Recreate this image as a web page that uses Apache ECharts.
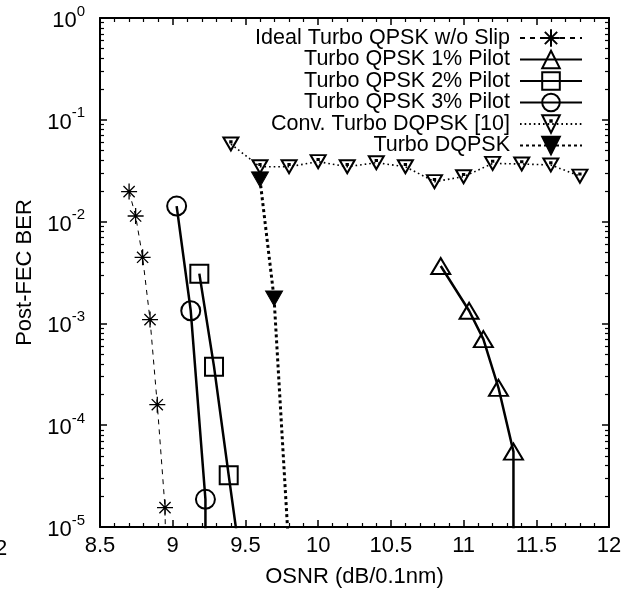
<!DOCTYPE html>
<html>
<head>
<meta charset="utf-8">
<script src="https://cdn.jsdelivr.net/npm/echarts@6/dist/echarts.min.js"></script>
<style>
  html, body { margin: 0; padding: 0; background: #fff; }
  #chart { width: 633px; height: 597px; }
</style>
</head>
<body>
<div id="chart"></div>
<script>
// OSNR (dB/0.1nm) -> Post-FEC BER
const idealX = [8.70, 8.745, 8.793, 8.844, 8.894, 8.947];
const idealY = [0.0197, 0.01135, 0.00446, 0.00109, 1.59e-4, 1.55e-5];
const pilot1X = [10.843, 11.038, 11.136, 11.24, 11.343];
const pilot1Y = [3.66e-3, 1.33e-3, 7.0e-4, 2.33e-4, 5.5e-5];
const pilot2X = [9.183, 9.284, 9.385];
const pilot2Y = [3.08e-3, 3.76e-4, 3.22e-5];
const pilot3X = [9.027, 9.124, 9.225];
const pilot3Y = [0.0142, 1.33e-3, 1.87e-5];
const convX = [9.4, 9.6, 9.8, 10.0, 10.2, 10.4, 10.6, 10.8, 11.0, 11.2, 11.4, 11.6, 11.8];
const convY = [0.0578, 0.0346, 0.0346, 0.0388, 0.0346, 0.0379, 0.0346, 0.0247, 0.0276, 0.0373, 0.0368, 0.036, 0.028];
const dqpskX = [9.60, 9.697];
const dqpskY = [0.026, 0.00176];

// curves keep going below 1e-5 (cut by the frame), no marker there
const idealTail = [8.96, 1e-6];
const pilot1Tail = [11.343, 1e-7];
const pilot2Tail = [9.53, 1e-6];
const pilot3Tail = [9.225, 1e-7];
const dqpskTail = [9.83, 1e-6];

const names = [
  'Ideal Turbo QPSK w/o Slip',
  'Turbo QPSK 1% Pilot',
  'Turbo QPSK 2% Pilot',
  'Turbo QPSK 3% Pilot',
  'Conv. Turbo DQPSK [10]',
  'Turbo DQPSK'
];

const FONT = 'Liberation Sans';
const FS = 22;

function pts(xs, ys, tail) {
  const d = xs.map((x, i) => [x, ys[i]]);
  if (tail) d.push({ value: tail, symbol: 'none' });
  return d;
}

// marker shapes
const asterisk = 'path://M0,-10L0,10M-10,0L10,0M-7,-7L7,7M-7,7L7,-7';
const dotTri = 'path://M-10,-8L10,-8L0,10Z M-0.8,-2.8L0.8,-2.8L0.8,-1.2L-0.8,-1.2Z';

function line(name, data, opt) {
  return Object.assign({
    name: name,
    type: 'line',
    data: data,
    symbolSize: 18,
    showSymbol: true,
    clip: true,
    animation: false,
    itemStyle: { color: 'rgba(0,0,0,0)', borderColor: '#000', borderWidth: 2 },
    emphasis: { disabled: true }
  }, opt);
}

// key rows, gnuplot style: text left, sample right
const rowY = [38, 59.5, 81, 102.5, 124, 145.5];
const legends = names.map((n, i) => ({
  data: [n],
  orient: 'vertical',
  right: 50,
  top: rowY[i] - 11,
  align: 'right',
  padding: 0,
  itemWidth: 62,
  itemHeight: 22,
  selectedMode: false,
  textStyle: { fontFamily: FONT, fontSize: 21.5, color: '#000', lineHeight: 22, padding: [0, 5, 0, 0] }
}));

const axisCommonX = {
  type: 'value',
  min: 8.5,
  max: 12,
  interval: 0.5,
  splitLine: { show: false },
  axisLine: { onZero: false, lineStyle: { color: '#000', width: 2 } },
  axisTick: { inside: true, length: 7, lineStyle: { color: '#000', width: 1.5 } },
  minorTick: { show: true, splitNumber: 5, length: 4, lineStyle: { color: '#000', width: 1.2 } }
};
const axisCommonY = {
  type: 'log',
  logBase: 10,
  min: 1e-5,
  max: 1,
  splitLine: { show: false },
  axisLine: { onZero: false, lineStyle: { color: '#000', width: 2 } },
  axisTick: { inside: true, length: 7, lineStyle: { color: '#000', width: 1.5 } },
  minorTick: { show: true, splitNumber: 9, length: 4, lineStyle: { color: '#000', width: 1.2 } }
};

const option = {
  backgroundColor: '#fff',
  animation: false,
  grid: { left: 100, right: 24, top: 18, bottom: 70 },
  legend: legends,
  xAxis: [
    Object.assign({}, axisCommonX, {
      position: 'bottom',
      name: 'OSNR (dB/0.1nm)',
      nameLocation: 'middle',
      nameGap: 39,
      nameTextStyle: { fontFamily: FONT, fontSize: FS, color: '#000' },
      axisLabel: { fontFamily: FONT, fontSize: FS, color: '#000', margin: 8 }
    }),
    Object.assign({}, axisCommonX, { position: 'top', axisLabel: { show: false } })
  ],
  yAxis: [
    Object.assign({}, axisCommonY, {
      position: 'left',
      name: 'Post-FEC BER',
      nameLocation: 'middle',
      nameGap: 62,
      nameTextStyle: { fontFamily: FONT, fontSize: FS, color: '#000' },
      axisLabel: {
        margin: 15,
        formatter: v => '{b|10}{s|' + Math.round(Math.log10(v)) + '}',
        rich: {
          b: { fontFamily: FONT, fontSize: FS, color: '#000', verticalAlign: 'bottom', lineHeight: 28 },
          s: { fontFamily: FONT, fontSize: 15, color: '#000', verticalAlign: 'top', lineHeight: 28 }
        }
      }
    }),
    Object.assign({}, axisCommonY, { position: 'right', axisLabel: { show: false } })
  ],
  graphic: [
    { type: 'text', x: -5, y: 538, style: { text: '2', fontFamily: FONT, fontSize: FS, fill: '#000' } }
  ],
  series: [
    line(names[0], pts(idealX, idealY, idealTail), {
      symbol: asterisk, symbolSize: 16,
      itemStyle: { color: 'rgba(0,0,0,0)', borderColor: '#000', borderWidth: 1.3 },
      lineStyle: { color: '#000', width: 1, type: [5, 5] }
    }),
    line(names[1], pts(pilot1X, pilot1Y, pilot1Tail), {
      symbol: 'triangle', symbolSize: [19, 16],
      lineStyle: { color: '#000', width: 2.5 }
    }),
    line(names[2], pts(pilot2X, pilot2Y, pilot2Tail), {
      symbol: 'rect', symbolSize: 18,
      lineStyle: { color: '#000', width: 2.5 }
    }),
    line(names[3], pts(pilot3X, pilot3Y, pilot3Tail), {
      symbol: 'circle', symbolSize: 19,
      lineStyle: { color: '#000', width: 2.5 }
    }),
    line(names[4], pts(convX, convY), {
      symbol: dotTri, symbolSize: [15, 13],
      lineStyle: { color: '#000', width: 1.6, type: [1.6, 3] }
    }),
    line(names[5], pts(dqpskX, dqpskY, dqpskTail), {
      symbol: 'triangle', symbolRotate: 180, symbolSize: [17, 15],
      itemStyle: { color: '#000', borderColor: '#000', borderWidth: 1 },
      lineStyle: { color: '#000', width: 3, type: [3, 3] }
    })
  ]
};

echarts.init(document.getElementById('chart')).setOption(option);
</script>
</body>
</html>
